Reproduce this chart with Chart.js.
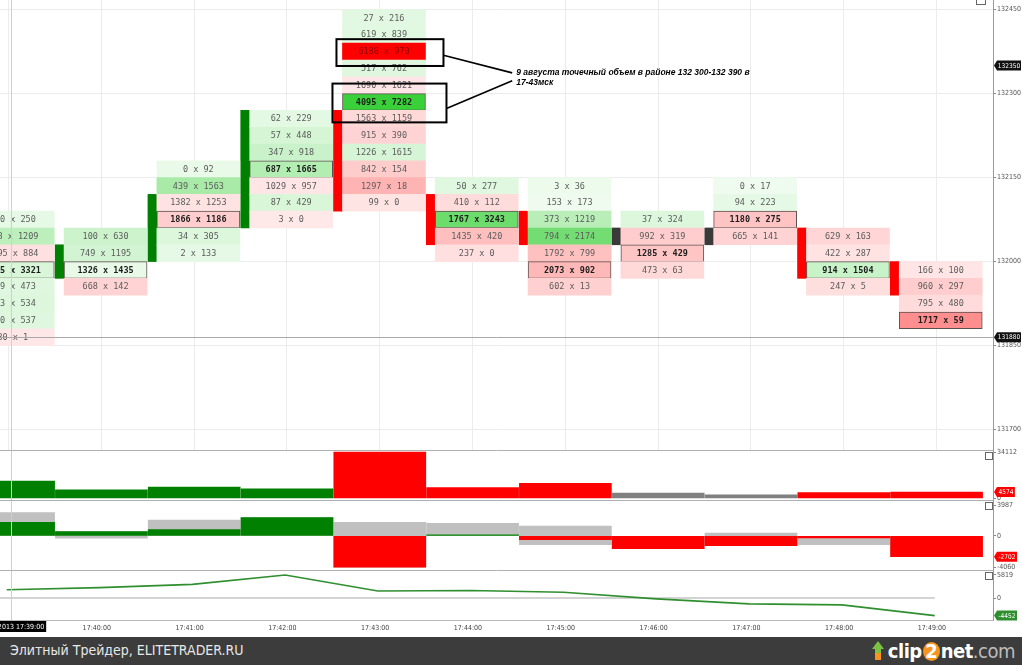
<!DOCTYPE html>
<html><head><meta charset="utf-8">
<script src="https://cdn.jsdelivr.net/npm/chart.js@4.4.1/dist/chart.umd.min.js"></script>
<style>
html,body{margin:0;padding:0;background:#fff;width:1022px;height:665px;overflow:hidden;position:relative}
canvas{position:absolute;left:0}
#footer{position:absolute;left:0;top:637px;width:1022px;height:28px;background:#3c3c3c}
#ftext{position:absolute;left:10px;top:5px;color:#e8e8e8;font:14px "DejaVu Sans Condensed","Liberation Sans Narrow",sans-serif;white-space:nowrap}
#logo{position:absolute;right:7px;top:2px;height:24px;font:bold 20px "Liberation Sans Narrow","DejaVu Sans Condensed",sans-serif;letter-spacing:-0.5px;white-space:nowrap;color:#fff;display:flex;align-items:center}
#logo .arr{display:inline-block;width:14px;height:20px;position:relative;margin-right:3px}
#logo .arr:before{content:"";position:absolute;left:1px;top:0;border-left:6px solid transparent;border-right:6px solid transparent;border-bottom:8px solid #7cc242}
#logo .arr:after{content:"";position:absolute;left:4px;top:8px;width:6px;height:11px;background:linear-gradient(#7cc242 40%,#f7941d 40%)}
#logo .two{display:inline-block;background:#f7941d;border-radius:50%;width:17px;height:19px;line-height:19px;text-align:center;margin:0 1px}
#logo .com{color:#bdbdbd;font-weight:normal}
.ico{position:absolute;width:6px;height:6px;border:1px solid #666;background:#fff}
</style></head><body>
<canvas id="main" width="1022" height="450" style="top:0px"></canvas>
<canvas id="vol" width="1022" height="55" style="top:445px"></canvas>
<canvas id="delta" width="1022" height="70" style="top:500px"></canvas>
<canvas id="cum" width="1022" height="67" style="top:570px"></canvas>
<div class="ico" style="left:976px;top:-2px;width:8px;height:5px"></div>
<div class="ico" style="left:985px;top:452px"></div>
<div class="ico" style="left:985px;top:502px"></div>
<div class="ico" style="left:985px;top:572px"></div>
<div id="footer"><div id="ftext">Элитный Трейдер, ELITETRADER.RU</div>
<div id="logo"><span class="arr"></span><span>clip</span><span class="two">2</span><span>net</span><span class="com">.com</span></div></div>
<script>
// ---------------- DATA ----------------
const timeLabels = ['17:39:00','17:40:00','17:41:00','17:42:00','17:43:00','17:44:00','17:45:00','17:46:00','17:47:00','17:48:00','17:49:00'];
const crossDate = '09.08.2013';
const priceStep = 30;
// top price level of the first footprint row of each minute bar
const rowTopPrice = [132090, 132060, 132180, 132270, 132450, 132150, 132150, 132090, 132150, 132060, 132000];
// bid x ask volumes per row, top to bottom (first bar is cut by the left edge; hidden digits estimated)
const bidVolumes = [
  [120, 428, 1095, 2985, 229, 263, 300, 30],
  [100, 749, 1326, 668],
  [0, 439, 1382, 1866, 34, 2],
  [62, 57, 347, 687, 1029, 87, 3],
  [27, 619, 6188, 517, 1690, 4095, 1563, 915, 1226, 842, 1297, 99],
  [50, 410, 1767, 1435, 237],
  [3, 153, 373, 794, 1792, 2073, 602],
  [37, 992, 1285, 473],
  [0, 94, 1180, 665],
  [629, 422, 914, 247],
  [166, 960, 795, 1717]
];
const askVolumes = [
  [250, 1209, 884, 3321, 473, 534, 537, 1],
  [630, 1195, 1435, 142],
  [92, 1563, 1253, 1186, 305, 133],
  [229, 448, 918, 1665, 957, 429, 0],
  [216, 839, 970, 762, 1621, 7282, 1159, 390, 1615, 154, 18, 0],
  [277, 112, 3243, 420, 0],
  [36, 173, 1219, 2174, 799, 902, 13],
  [324, 319, 429, 63],
  [17, 223, 275, 141],
  [163, 287, 1504, 5],
  [100, 297, 480, 59]
];
const candleOpen  = [131970, 132000, 132030, 132090, 132270, 132120, 132090, 132060, 132060, 132060, 132000];
const candleClose = [132000, 132030, 132120, 132270, 132120, 132060, 132060, 132060, 132060, 132000, 131970];
const barVolume  = [12659, 6245, 8255, 6918, 34112, 7951, 11106, 3922, 2595, 4171, 4574];
const deltaClose = [1759, 559, 809, 2374, -4060, 153, -474, -1652, -1283, -253, -2702];
const deltaHigh  = [3040, 559, 2050, 2374, 1760, 1630, 1280, 0, 350, 0, 0];
const deltaLow   = [0, -300, 0, 0, -4060, 0, -1150, -1652, -1283, -1150, -2702];
const cumDelta   = [2077, 2636, 3445, 5819, 1759, 1912, 1438, -214, -1497, -1750, -4452];
const priceTicks  = [131700, 131850, 132000, 132150, 132300, 132450];
const volumeTicks = [34112, 0];
const deltaTicks  = [3987, 0, -4060];
const cumTicks    = [5819, 0];
const markPrice = 132350;
const crossPrice = 131865;
const crossTime = 0.526;            // minutes after 17:39:00
const annotatedCells = [{bar: 4, price: 132390}, {bar: 4, price: 132300}];
const annotationLines = ['9 августа точечный объем в районе 132 300-132 390 в', '17-43мск'];

// ---------------- STYLE / HELPERS ----------------
const NARROW = '"Liberation Sans Narrow", "DejaVu Sans Condensed", sans-serif';
const MONO = '"DejaVu Sans Mono", monospace';
const X_MIN = 0.4073, X_MAX = 11.108;
const GREEN_STOPS = [[0,0.07],[600,0.24],[1150,0.38],[1400,0.63],[3200,0.86]];
const RED_STOPS = [[0,0.09],[700,0.2],[1300,0.3],[1700,0.46],[5200,1]];
function interp(stops, d){
  if (d <= stops[0][0]) return stops[0][1];
  for (let i=1;i<stops.length;i++){ if (d <= stops[i][0]) { const [x0,y0]=stops[i-1],[x1,y1]=stops[i]; return y0+(y1-y0)*(d-x0)/(x1-x0);} }
  return stops[stops.length-1][1];
}
function shade(bid, ask){
  const d = ask - bid;
  const a = d >= 0 ? interp(GREEN_STOPS, d) : interp(RED_STOPS, -d);
  const base = d >= 0 ? [25,200,25] : [255,0,0];
  const c = base.map(v => Math.round(255 + (v-255)*a));
  return {color:`rgb(${c[0]},${c[1]},${c[2]})`, alpha:a, red:d<0};
}
function dir(k){ return candleClose[k] > candleOpen[k] ? 1 : (candleClose[k] < candleOpen[k] ? -1 : 0); }
const pocRow = bidVolumes.map((col,k)=>{ let b=0; col.forEach((v,i)=>{ if (v+askVolumes[k][i] > col[b]+askVolumes[k][b]) b=i; }); return b; });

const cellPoints = [];
bidVolumes.forEach((col,k)=>col.forEach((b,i)=>{
  const p = rowTopPrice[k] - priceStep*i;
  cellPoints.push({x:k+0.545, y:[p-priceStep, p], bid:b, ask:askVolumes[k][i], poc:i===pocRow[k], bar:k, price:p});
}));
const candlePoints = candleOpen.map((o,k)=>({x:k+0.05, y:[Math.min(o,candleClose[k])-priceStep, Math.max(o,candleClose[k])], k}));

function rightAxis(min, max, ticksArr, onArea){
  return {position:'right', min, max,
    afterBuildTicks: s => { s.ticks = ticksArr.map(v=>({value:v})); },
    afterFit: s => { s.width = 29; s.paddingTop = 0; s.paddingBottom = 0; },
    ticks:{color:'#555', font:{family:NARROW, size:7}, padding:1, autoSkip:false, callback:v=>String(v)},
    grid:{color:'#ececec', drawOnChartArea:onArea, tickLength:3, tickColor:'#888'},
    border:{display:true, color:'#999'}};
}
function hiddenX(gridOn){
  return {type:'linear', min:X_MIN, max:X_MAX, offset:false,
    afterBuildTicks: s => { s.ticks = timeLabels.map((t,k)=>({value:k+1})); },
    afterFit: s => { s.height = 0; s.paddingLeft = 0; s.paddingRight = 0; },
    ticks:{display:false}, grid:{display:gridOn, color:'#ececec', drawTicks:false}, border:{display:false}};
}
function drawTag(chart, value, text, bg){
  const ctx = chart.ctx, y = chart.scales.y.getPixelForValue(value), x = chart.chartArea.right + 1;
  ctx.save(); ctx.font = `6.5px ${NARROW}`;
  const w = Math.min(ctx.measureText(text).width + 3, chart.width - x - 4), h = 10;
  ctx.fillStyle = bg; ctx.beginPath();
  ctx.moveTo(x, y); ctx.lineTo(x+3, y-h/2); ctx.lineTo(x+3+w, y-h/2); ctx.lineTo(x+3+w, y+h/2); ctx.lineTo(x+3, y+h/2); ctx.closePath(); ctx.fill();
  ctx.fillStyle = '#fff'; ctx.textAlign='center'; ctx.textBaseline='middle';
  ctx.fillText(text, x+3+w/2, y+0.5, w); ctx.restore();
}
const crossV = {id:'crossV', afterDraw(chart){
  const ctx=chart.ctx, a=chart.chartArea, x=chart.scales.x.getPixelForValue(crossTime);
  ctx.save(); ctx.strokeStyle='#cfcfcf'; ctx.lineWidth=1; ctx.beginPath(); ctx.moveTo(Math.round(x)+0.5,a.top); ctx.lineTo(Math.round(x)+0.5,a.bottom); ctx.stroke(); ctx.restore();
}};
const topLine = {id:'topLine', afterDraw(chart){
  const ctx=chart.ctx, a=chart.chartArea;
  ctx.save(); ctx.strokeStyle='#b0b0b0'; ctx.lineWidth=1; ctx.beginPath(); ctx.moveTo(0,a.top+0.5); ctx.lineTo(a.right,a.top+0.5); ctx.stroke(); ctx.restore();
}};
const common = {responsive:false, animation:false, devicePixelRatio:1, events:[], layout:{padding:0},
  plugins:{legend:{display:false}, tooltip:{enabled:false}}};

// ---------------- MAIN FOOTPRINT ----------------
const cellText = {id:'cellText', afterDatasetsDraw(chart){
  const ctx=chart.ctx, a=chart.chartArea, meta=chart.getDatasetMeta(0), ds=chart.data.datasets[0].data;
  ctx.save(); ctx.beginPath(); ctx.rect(a.left,a.top,a.right-a.left,a.bottom-a.top); ctx.clip();
  ctx.textAlign='center'; ctx.textBaseline='middle';
  meta.data.forEach((el,i)=>{
    const r = ds[i], s = shade(r.bid, r.ask);
    ctx.font = (r.poc ? 'bold ' : '') + `8.5px ${MONO}`;
    ctx.fillStyle = r.poc ? '#1e1e1e' : (s.red && s.alpha > 0.75 ? '#8a0000' : '#5c5c5c');
    ctx.fillText(`${r.bid} x ${r.ask}`, el.x, (el.y+el.base)/2 + 0.5);
  });
  ctx.restore();
}};
const mainExtras = {id:'mainExtras', afterDraw(chart){
  const ctx=chart.ctx, a=chart.chartArea, xs=chart.scales.x, ys=chart.scales.y;
  const cy = Math.round(ys.getPixelForValue(crossPrice))+0.5;
  ctx.save(); ctx.strokeStyle='#a8a8a8'; ctx.lineWidth=1; ctx.beginPath(); ctx.moveTo(a.left,cy); ctx.lineTo(a.right,cy); ctx.stroke();
  const meta = chart.getDatasetMeta(0), ds = chart.data.datasets[0].data;
  const pads = [{l:6,r:18,t:4,b:6},{l:10,r:21,t:10,b:12}];
  const boxes = annotatedCells.map((c,j)=>{
    const i = ds.findIndex(r=>r.bar===c.bar && r.price===c.price), el = meta.data[i];
    return {l:el.x-el.width/2-pads[j].l, r:el.x+el.width/2+pads[j].r, t:Math.min(el.y,el.base)-pads[j].t, b:Math.max(el.y,el.base)+pads[j].b};
  });
  ctx.strokeStyle='#000'; ctx.lineWidth=2;
  boxes.forEach(bx=>ctx.strokeRect(bx.l,bx.t,bx.r-bx.l,bx.b-bx.t));
  const tx = xs.getPixelForValue(5.97), ty = ys.getPixelForValue(132337);
  ctx.lineWidth=1.6; ctx.beginPath();
  ctx.moveTo(boxes[0].r, boxes[0].t+0.6*(boxes[0].b-boxes[0].t)); ctx.lineTo(tx-4, ty);
  ctx.moveTo(boxes[1].r, boxes[1].t+0.64*(boxes[1].b-boxes[1].t)); ctx.lineTo(tx-4, ty+8);
  ctx.stroke();
  ctx.fillStyle='#000'; ctx.font='italic bold 8.5px "Liberation Sans", Arial, sans-serif'; ctx.textBaseline='middle'; ctx.textAlign='left';
  annotationLines.forEach((s,j)=>ctx.fillText(s, tx, ty + j*9.5));
  ctx.restore();
  drawTag(chart, markPrice, String(markPrice), '#111');
  drawTag(chart, crossPrice, String(Math.ceil(crossPrice/priceStep)*priceStep), '#111');
}};
new Chart(document.getElementById('main'), {type:'bar',
  data:{datasets:[
    {data:cellPoints, grouped:false, barThickness:83, borderSkipped:false,
     backgroundColor: c => c.raw ? shade(c.raw.bid, c.raw.ask).color : '#fff',
     borderColor:'#5e5050', borderWidth: c => (c.raw && c.raw.poc) ? 1 : 0},
    {data:candlePoints, grouped:false, barThickness:9, borderWidth:0,
     backgroundColor: c => { if (!c.raw) return '#000'; const d = dir(c.raw.k); return d>0 ? '#008000' : (d<0 ? '#ff0000' : '#3a3a3a'); }}
  ]},
  options:{...common, scales:{x:hiddenX(true), y:rightAxis(131663.5, 132467.1, priceTicks, true)}},
  plugins:[cellText, crossV, mainExtras]});

// ---------------- VOLUME ----------------
new Chart(document.getElementById('vol'), {type:'bar',
  data:{datasets:[{data:barVolume.map((v,k)=>({x:k+0.5,y:v})), grouped:false, barThickness:92, borderWidth:0,
    backgroundColor: c => { const d = dir(c.dataIndex||0); return d>0 ? '#008000' : (d<0 ? '#ff0000' : '#808080'); }}]},
  options:{...common, layout:{padding:{top:5}}, scales:{x:hiddenX(false), y:rightAxis(-1253, 35586, volumeTicks, false)}},
  plugins:[crossV, topLine, {id:'vt', afterDraw(ch){ const n=barVolume.length-1; drawTag(ch, barVolume[n], String(barVolume[n]), dir(n)<0?'#ff0000':'#008000'); }}]});

// ---------------- DELTA ----------------
new Chart(document.getElementById('delta'), {type:'bar',
  data:{datasets:[
    {data:deltaClose.map((v,k)=>({x:k+0.5,y:[0,v]})), grouped:false, barThickness:92, borderWidth:0,
     backgroundColor: c => (deltaClose[c.dataIndex||0] >= 0 ? '#008000' : '#ff0000')},
    {data:deltaLow.map((v,k)=>({x:k+0.5,y:[v,deltaHigh[k]]})), grouped:false, barThickness:92, borderWidth:0, backgroundColor:'#c0c0c0'}
  ]},
  options:{...common, scales:{x:hiddenX(false), y:rightAxis(-4426, 4659, deltaTicks, false)}},
  plugins:[crossV, topLine, {id:'dt', afterDraw(ch){ const v=deltaClose[deltaClose.length-1]; drawTag(ch, v, String(v), v<0?'#ff0000':'#008000'); }}]});

// ---------------- CUMULATIVE DELTA ----------------
const cumPoints = cumDelta.map((v,k)=>({x:k+0.48, y:v}));
new Chart(document.getElementById('cum'), {type:'line',
  data:{datasets:[
    {data:cumPoints, borderColor:'#2f8f2f', borderWidth:1.6, pointRadius:0, tension:0, fill:false},
    {data:[{x:X_MIN,y:0},{x:cumPoints[cumPoints.length-1].x,y:0}], borderColor:'#c4c4c4', borderWidth:1.5, pointRadius:0}
  ]},
  options:{...common, scales:{
    x:{type:'linear', min:X_MIN, max:X_MAX, offset:false,
       afterBuildTicks: s => { s.ticks = timeLabels.map((t,k)=>({value:k+0.45})).slice(1); },
       afterFit: s => { s.height = 17; s.paddingLeft = 0; s.paddingRight = 0; },
       ticks:{color:'#444', font:{family:NARROW, size:7}, padding:-4, maxRotation:0, autoSkip:false,
              callback:(v)=>timeLabels[Math.round(v-0.45)]},
       grid:{display:false}, border:{display:true, color:'#b8b8b8'}},
    y:rightAxis(-5566, 7084, cumTicks, false)}},
  plugins:[crossV, topLine, {id:'ct', afterDraw(ch){
    const v=cumDelta[cumDelta.length-1]; drawTag(ch, v, String(v), '#2f8f2f');
    const ctx=ch.ctx, a=ch.chartArea, x=ch.scales.x.getPixelForValue(crossTime);
    const txt = crossDate + ' ' + timeLabels[0];
    ctx.save(); ctx.font=`7px ${NARROW}`; const w=ctx.measureText(txt).width+4;
    ctx.fillStyle='#000'; ctx.fillRect(x-w/2, a.bottom+1, w, 11);
    ctx.fillStyle='#fff'; ctx.textAlign='center'; ctx.textBaseline='middle'; ctx.fillText(txt, x, a.bottom+7);
    ctx.restore();
  }}]});
</script>
</body></html>
